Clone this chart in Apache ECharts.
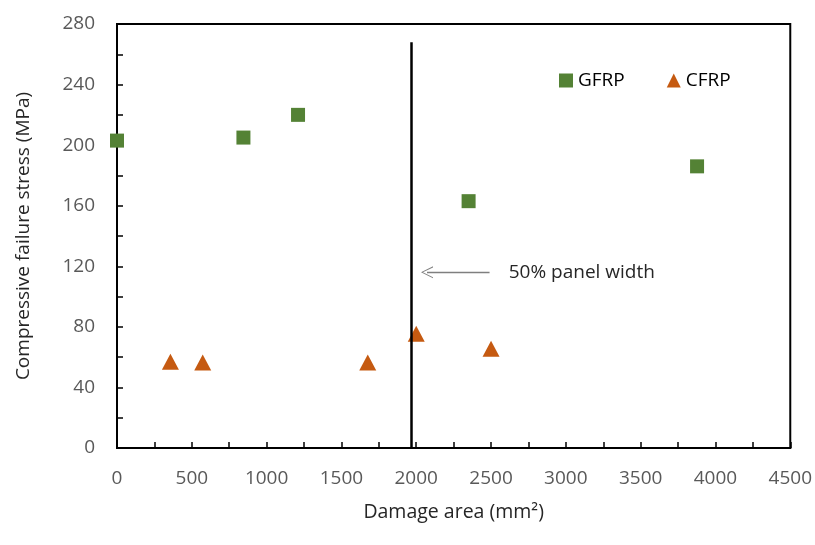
<!DOCTYPE html>
<html>
<head>
<meta charset="utf-8">
<script src="https://cdn.jsdelivr.net/npm/echarts@6/dist/echarts.min.js"></script>
<style>html,body{margin:0;padding:0;background:#fff;}#c{width:815px;height:545px;}</style>
</head>
<body>
<div id="c"></div>
<script>
// Data
var gfrpArea = [0, 845, 1210, 2350, 3877];
var gfrpStress = [203, 205, 220, 163, 186];
var cfrpArea = [357, 573, 1676, 2000, 2500];
var cfrpStress = [57, 56.5, 56.5, 75.5, 65.5];
var xTicks = [0, 500, 1000, 1500, 2000, 2500, 3000, 3500, 4000, 4500];
var yTicks = [0, 40, 80, 120, 160, 200, 240, 280];
var panelLineX = 1965;      // 50% panel width marker
var panelLineTop = 268;
var arrowFrom = [2490, 116];
var arrowTo = [2072, 116];
var noteText = '50% panel width';

function pairs(xs, ys) { return xs.map(function (x, i) { return [x, ys[i]]; }); }

var FONT = 'Open Sans';
var chart = echarts.init(document.getElementById('c'));
var axisLine = { show: true, lineStyle: { color: '#000', width: 2 } };
var tick = { show: true, inside: true, length: 6, lineStyle: { color: '#000', width: 1.5 } };
var minor = { show: true, splitNumber: 2, length: 6, lineStyle: { color: '#000', width: 1.5 } };
var plain = function (v) { return String(v); };

chart.setOption({
  animation: false,
  backgroundColor: '#fff',
  grid: { left: 117, right: 23, top: 24, bottom: 97, show: true, borderColor: '#000', borderWidth: 2, backgroundColor: 'transparent' },
  legend: {
    left: 554, top: 66, itemWidth: 14, itemHeight: 14, itemGap: 42,
    textStyle: { fontFamily: FONT, fontSize: 19, color: '#000' },
    data: [{ name: 'GFRP', icon: 'rect' }, { name: 'CFRP', icon: 'triangle' }]
  },
  xAxis: {
    type: 'value', min: xTicks[0], max: xTicks[xTicks.length - 1], interval: 500,
    name: 'Damage area (mm²)', nameLocation: 'middle', nameGap: 54,
    nameTextStyle: { fontFamily: FONT, fontSize: 19.5, color: '#262626' },
    axisLine: axisLine, axisTick: tick, minorTick: minor, splitLine: { show: false },
    axisLabel: { margin: 21, fontFamily: FONT, fontSize: 19, color: '#595959', formatter: plain }
  },
  yAxis: {
    type: 'value', min: yTicks[0], max: yTicks[yTicks.length - 1], interval: 40,
    name: 'Compressive failure stress (MPa)', nameLocation: 'middle', nameGap: 84, nameRotate: 90,
    nameTextStyle: { fontFamily: FONT, fontSize: 19, color: '#262626' },
    axisLine: axisLine, axisTick: tick, minorTick: minor, splitLine: { show: false },
    axisLabel: { margin: 22, fontFamily: FONT, fontSize: 19, color: '#595959', formatter: plain }
  },
  series: [
    {
      name: 'GFRP', type: 'scatter', symbol: 'rect', symbolSize: 14,
      itemStyle: { color: '#548235', opacity: 1 }, data: pairs(gfrpArea, gfrpStress), z: 3
    },
    {
      name: 'CFRP', type: 'scatter', symbol: 'triangle', symbolSize: [17, 16],
      itemStyle: { color: '#C55A11', opacity: 1 }, data: pairs(cfrpArea, cfrpStress), z: 4
    },
    {
      name: 'annot', type: 'scatter', data: [], silent: true,
      markLine: {
        silent: true, animation: false,
        label: { show: false },
        data: [
          [{ coord: [panelLineX, 0], symbol: 'none', lineStyle: { color: '#000', width: 2.5, type: 'solid' } },
           { coord: [panelLineX, panelLineTop], symbol: 'none' }],
          [{ coord: arrowFrom, symbol: 'none', lineStyle: { color: '#7f7f7f', width: 1.3, type: 'solid' } },
           { coord: arrowTo, symbol: 'path://M5,0 L10,10 L9,10 L5,1.6 L1,10 L0,10 Z', symbolSize: [12, 12] }]
        ]
      },
      markPoint: {
        silent: true, symbol: 'circle', symbolSize: 0,
        label: { show: true, position: 'right', distance: 0, formatter: noteText, fontFamily: FONT, fontSize: 19, color: '#262626' },
        data: [{ coord: [arrowFrom[0] + 128, arrowFrom[1]] }]
      }
    }
  ]
});
</script>
</body>
</html>
